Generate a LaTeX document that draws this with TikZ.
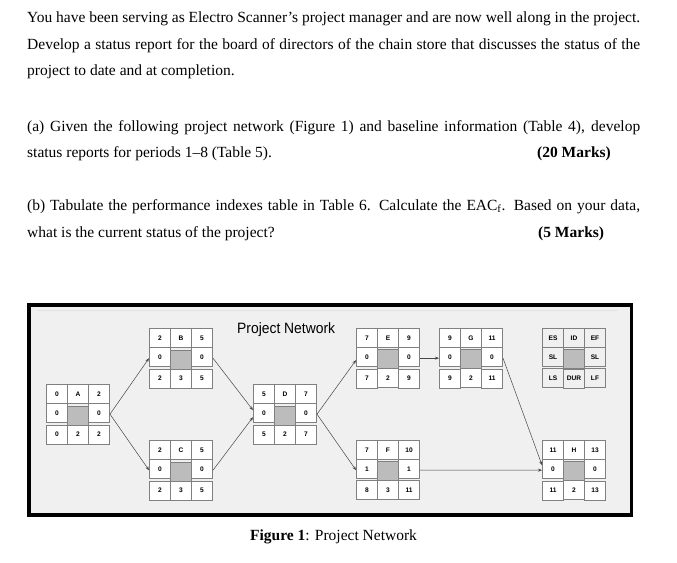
\documentclass[tikz,border=0pt]{standalone}
\usepackage{fontspec}
\setmainfont{Liberation Serif}
\newfontfamily\sansf{Liberation Sans}
\usetikzlibrary{arrows.meta,matrix}
\definecolor{bgfill}{RGB}{240,240,240}
\definecolor{cellline}{RGB}{128,128,128}
\definecolor{midfill}{RGB}{188,188,188}
\definecolor{conncol}{RGB}{70,70,70}
\definecolor{faintline}{RGB}{226,226,226}
\newcommand\cellfont{\sansf\bfseries\fontsize{6.6}{7.5}\selectfont}
\newcommand\bodyfont{\fontsize{15.5}{18}\selectfont}
\begin{document}
\begin{tikzpicture}[x=1pt,y=-1pt,
  txt/.style={anchor=base west, inner sep=0pt, font=\bodyfont},
  cell/.style={draw=cellline, line width=0.6pt, fill=white, minimum width=21pt,
    minimum height=19pt, inner sep=0pt, font=\cellfont},
  midc/.style={fill=midfill},
  actm/.style={matrix of nodes, anchor=north west, inner sep=0pt,
    column sep=-0.6pt, row sep=-0.6pt, nodes={cell}},
  legm/.style={actm, nodes={cell, fill=bgfill}},
  conn/.style={draw=conncol, line width=0.5pt, -{Stealth[length=4pt,width=3pt]}}]
\useasboundingbox (0,0) rectangle (677,562);
\fill[white] (0,0) rectangle (677,562);
% text
\node[txt] (l1) at (27,23) {\hbox to 613pt{You have been serving as Electro Scanner’s project manager and are now well along in the project.}};
\node[txt] (l2) at (27,49) {\hbox to 613pt{Develop a status report for the board of directors of the chain store that discusses the status of the}};
\node[txt] (l3) at (27,75) {project to date and at completion.};
\node[txt] (a1) at (27,131) {\hbox to 613pt{(a) Given the following project network (Figure 1) and baseline information (Table 4), develop}};
\node[txt] (a2) at (27,157) {status reports for periods 1–8 (Table 5).};
\node[txt] (a3) at (537,157) {\textbf{(20 Marks)}};
\node[txt] (b1) at (27,210) {\hbox to 613pt{(b) Tabulate the performance indexes table in Table 6. Calculate the EAC\textsubscript{f}. Based on your data,}};
\node[txt] (b2) at (27,237) {what is the current status of the project?};
\node[txt] (b3) at (538,237) {\textbf{(5 Marks)}};
% frame
\fill[black] (27,303) rectangle (633,517);
\fill[bgfill] (31,307) rectangle (630,513);
\draw[faintline, line width=0.8pt] (37,310) -- (618,310);
\node[anchor=base west, inner sep=0pt, font=\sansf\fontsize{15}{17}\selectfont,
  xscale=0.925, transform shape] (title) at (237,333) {Project Network};
% activities
\matrix[actm] (A) at (46,384) {0 & A & 2\\ 0 & |[midc]| {} & 0\\ 0 & 2 & 2\\};
\matrix[actm] (B) at (149,328) {2 & B & 5\\ 0 & |[midc]| {} & 0\\ 2 & 3 & 5\\};
\matrix[actm] (C) at (149,440) {2 & C & 5\\ 0 & |[midc]| {} & 0\\ 2 & 3 & 5\\};
\matrix[actm] (D) at (253,384) {5 & D & 7\\ 0 & |[midc]| {} & 0\\ 5 & 2 & 7\\};
\matrix[actm] (E) at (356,328) {7 & E & 9\\ 0 & |[midc]| {} & 0\\ 7 & 2 & 9\\};
\matrix[actm] (F) at (356,440) {7 & F & 10\\ 1 & |[midc]| {} & 1\\ 8 & 3 & 11\\};
\matrix[actm] (G) at (439,328) {9 & G & 11\\ 0 & |[midc]| {} & 0\\ 9 & 2 & 11\\};
\matrix[actm] (H) at (542,440) {11 & H & 13\\ 0 & |[midc]| {} & 0\\ 11 & 2 & 13\\};
\matrix[legm] (L) at (542,328) {ES & ID & EF\\ SL & |[midc]| {} & SL\\ LS & DUR & LF\\};
% connectors
\draw[conn] (A.east) -- (B.west);
\draw[conn] (A.east) -- (C.west);
\draw[conn] (B.east) -- ([yshift=4pt]D.west);
\draw[conn] (C.east) -- ([yshift=-3pt]D.west);
\draw[conn] (D.east) -- ([yshift=-2pt]E.west);
\draw[conn] (D.east) -- (F.west);
\draw[conn] (E.east) -- (G.west);
\draw[conn] (G.east) -- ([yshift=5pt]H.west);
\draw[conn] (F.east) -- (H.west);
% caption
\node[anchor=base west, inner sep=0pt, font=\bodyfont] (cap) at (250,540) {\textbf{Figure 1}: Project Network};
\end{tikzpicture}
\end{document}
